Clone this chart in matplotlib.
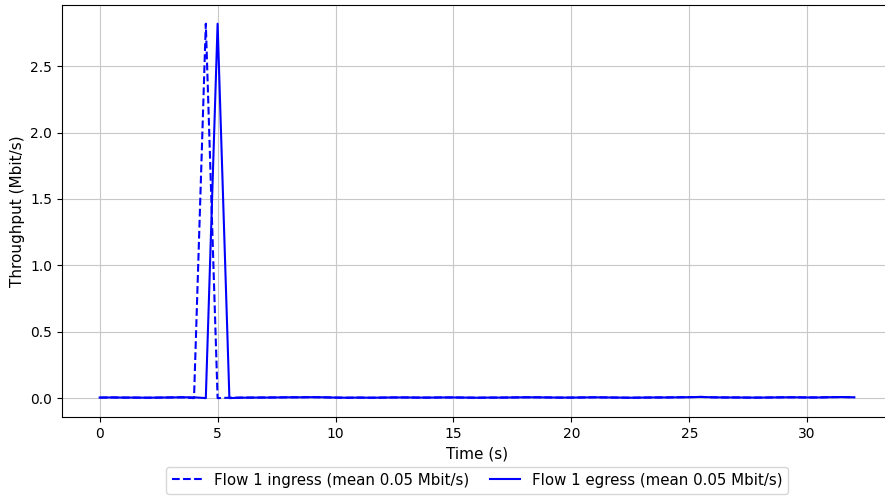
#!/usr/bin/env python3
import numpy as np
import matplotlib
matplotlib.use('Agg')
import matplotlib.pyplot as plt

# sample times every 0.5 s from 0 to 32
TIMES = [i * 0.5 for i in range(65)]

INGRESS = [
    0.004, 0.005, 0.004, 0.004, 0.003, 0.004, 0.005, 0.006, 0.000, 2.820,
    0.000, 0.003, 0.004, 0.004, 0.005, 0.005, 0.006, 0.006, 0.007, 0.006,
    0.004, 0.003, 0.004, 0.003, 0.004, 0.005, 0.005, 0.004, 0.004, 0.005,
    0.005, 0.004, 0.003, 0.004, 0.004, 0.005, 0.006, 0.006, 0.005, 0.004,
    0.004, 0.005, 0.006, 0.005, 0.004, 0.003, 0.004, 0.005, 0.005, 0.006,
    0.007, 0.009, 0.006, 0.005, 0.005, 0.004, 0.004, 0.005, 0.006, 0.006,
    0.005, 0.005, 0.007, 0.008, 0.006,
]

EGRESS = [
    0.004, 0.005, 0.004, 0.004, 0.003, 0.004, 0.005, 0.006, 0.006, 0.000,
    2.820, 0.000, 0.003, 0.004, 0.004, 0.005, 0.006, 0.006, 0.007, 0.006,
    0.004, 0.003, 0.004, 0.003, 0.004, 0.005, 0.005, 0.004, 0.004, 0.005,
    0.005, 0.004, 0.003, 0.004, 0.004, 0.005, 0.006, 0.006, 0.005, 0.004,
    0.004, 0.005, 0.006, 0.005, 0.004, 0.003, 0.004, 0.005, 0.005, 0.006,
    0.007, 0.009, 0.006, 0.005, 0.005, 0.004, 0.004, 0.005, 0.006, 0.006,
    0.005, 0.005, 0.007, 0.008, 0.006,
]

LABEL_IN = 'Flow 1 ingress (mean 0.05 Mbit/s)'
LABEL_OUT = 'Flow 1 egress (mean 0.05 Mbit/s)'


def run():
    fig = plt.figure(figsize=(8.85, 4.98), dpi=100)
    # right spine falls just outside the picture, as in the original crop
    ax = fig.add_axes([0.070, 0.163, 0.938, 0.827])

    ax.plot(TIMES, INGRESS, '--', color='blue', label=LABEL_IN)
    ax.plot(TIMES, EGRESS, '-', color='blue', label=LABEL_OUT)

    ax.grid(True, color='#c8c8c8')
    ax.set_xlabel('Time (s)', fontsize=11)
    ax.set_ylabel('Throughput (Mbit/s)', fontsize=11)
    ax.set_xticks([0, 5, 10, 15, 20, 25, 30])

    fig.legend(loc='center', bbox_to_anchor=(0.539, 0.036), ncol=2,
               fontsize=10.8, columnspacing=1.4, frameon=True)

    fig.savefig('out.png', dpi=100)


if __name__ == '__main__':
    run()
